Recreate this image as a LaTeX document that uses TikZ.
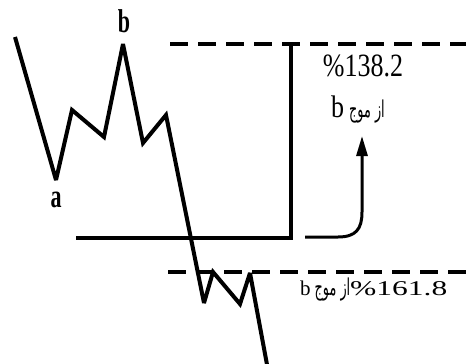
\documentclass[tikz,border=0pt]{standalone}
\usepackage{fontspec}
\setmainfont{Liberation Serif}
\newfontfamily\arabicfont[Script=Arabic]{DejaVu Sans}
\TeXXeTstate=1
\usetikzlibrary{arrows.meta}
\tikzset{
  wave/.style={line width=4pt, line join=miter, miter limit=4},
  frame/.style={line width=3.2pt},
  dashline/.style={line width=3.4pt, dash pattern=on 18pt off 10pt},
  curvearrow/.style={line width=3pt, -{Triangle[length=20pt,width=11pt]}},
  lbl/.style={inner sep=0pt, font=\fontsize{22}{22}\selectfont\bfseries},
  txt/.style={inner sep=0pt},
}
\newcommand\arword[1]{\scalebox{0.8}[1.45]{\arabicfont\fontsize{16}{16}\selectfont\beginR #1\endR}}
\begin{document}
\begin{tikzpicture}[x=1pt,y=-1pt]
\useasboundingbox (0,0) rectangle (466,364);
% price wave
\draw[wave] (15,37) coordinate (w0) -- (56,180) coordinate (wa) -- (72,110) -- (104,137)
  -- (123,44) coordinate (wb) -- (143,143) -- (166,115) -- (204,303) -- (213,272)
  -- (240,304) -- (250,273) -- (268,370);
% labels a, b
\node[lbl] (la) at (56,200) {\scalebox{1}[1.5]{a}};
\node[lbl] (lb) at (124,21) {\scalebox{1}[1.5]{b}};
% dashed levels
\coordinate (d1a) at (170,44); \coordinate (d1b) at (470,44);
\coordinate (d2a) at (168,272); \coordinate (d2b) at (470,272);
\draw[dashline] (d1a) -- (d1b);
\draw[dashline] (d2a) -- (d2b);
% measuring frame
\coordinate (f0) at (76,238); \coordinate (fc) at (291,238); \coordinate (f1) at (291,44);
\draw[frame] (f0) -- (fc) -- (f1);
% curved arrow
\coordinate (ar0) at (305,237); \coordinate (ar1) at (362,136);
\draw[curvearrow] (ar0) -- (338,237) .. controls (356,237) and (362,229) .. (362,212) -- (ar1);
% texts
\node[txt, font=\fontsize{26}{26}\selectfont] (t1) at (363,66) {\scalebox{1}[1.25]{\%138.2}};
\node[txt, anchor=west] (t2) at (331,110) {\fontsize{26}{26}\selectfont\scalebox{1}[1.2]{b}\hspace{5pt}\arword{از موج}};
\node[txt, anchor=west] (t3) at (300,290) {\fontsize{21}{21}\selectfont b\hspace{4pt}\arword{از موج}\scalebox{1.5}[1]{\%161.8}};
\end{tikzpicture}
\end{document}
